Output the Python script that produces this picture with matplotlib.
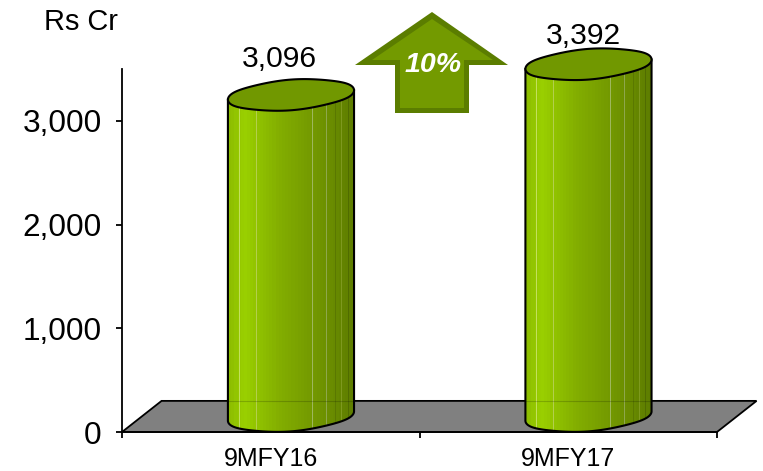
#!/usr/bin/env python3
import matplotlib

matplotlib.use("Agg")
import matplotlib.pyplot as plt
import numpy as np
from matplotlib.colors import LinearSegmentedColormap
from matplotlib.patches import Polygon
from matplotlib.path import Path

# ---------- data ---------- #
categories = ["9MFY16", "9MFY17"]
values = [3096, 3392]
value_labels = ["3,096", "3,392"]
y_ticks = [0, 1000, 2000, 3000]
y_tick_labels = ["0", "1,000", "2,000", "3,000"]
unit_label = "Rs Cr"
growth_label = "10%"

# ---------- style ---------- #
W, H = 763, 471
plt.rcParams["font.family"] = ["Liberation Sans", "DejaVu Sans"]

# fake 3D depth, in data units
DEPTH_X = 0.133
DEPTH_Y = 300
CYL_DX = 0.068
CYL_DY = 154
CYL_RX = 0.212
CYL_RY = 145
CYL_TILT = 45  # ellipses lean up to the right
CYL_WOBBLE = 3  # hand drawn look of the outline

side_cmap = LinearSegmentedColormap.from_list(
    "side",
    [(0, "#8DBD00"), (0.12, "#9AD000"), (0.4, "#83AE00"), (0.75, "#6F9300"), (1, "#5E7D00")],
)
SIDE_LINES = [(0.087, "#C5E060"), (0.222, "#B5D050"), (0.667, "#A0B860"),
              (0.778, "#90A850"), (0.85, "#5A7800"), (0.9, "#7F9A20"), (0.95, "#506C00")]


def px_box(x0, y0, x1, y1):
    return [x0 / W, 1 - y1 / H, (x1 - x0) / W, (y1 - y0) / H]


def ellipse(cx, cy, a):
    xs = cx + CYL_RX * np.cos(a)
    ys = cy + CYL_RY * np.sin(a) + CYL_TILT * np.cos(a) + CYL_WOBBLE * np.sin(5 * a)
    return xs, ys


def clip_to(artist, verts, ax):
    artist.set_clip_path(Path(verts), transform=ax.transData)
    artist.set_clip_box(ax.figure.bbox)


def draw_cylinder(ax, cx, base, top):
    # front of the body: left edge up, across the top, round the bottom ellipse
    t = np.linspace(0, np.pi, 80)
    bx, by = ellipse(cx, base, -t)
    tx, ty = ellipse(cx, top, np.array([np.pi, 0.0]))
    verts = np.c_[np.r_[tx, bx], np.r_[ty, by]]
    ax.add_patch(Polygon(verts, closed=True, fc="none", ec="black", lw=1.5, zorder=3, clip_on=False))

    grad = np.linspace(0, 1, 40).reshape(1, -1)
    im = ax.imshow(grad, cmap=side_cmap, aspect="auto", zorder=2, interpolation="nearest",
                   extent=(cx - CYL_RX, cx + CYL_RX, base - CYL_RY - CYL_TILT, top + CYL_TILT))
    clip_to(im, verts, ax)

    # faint facet lines, clipped to the body like the gradient
    for frac, col in SIDE_LINES:
        x = cx - CYL_RX + frac * 2 * CYL_RX
        ln, = ax.plot([x, x], [base - 400, top + 100], color=col, lw=0.7, zorder=2.5)
        clip_to(ln, verts, ax)

    # floor edge shows faintly through the cylinder
    ln, = ax.plot([cx - CYL_RX, cx + CYL_RX], [DEPTH_Y, DEPTH_Y], color="black", lw=0.8, alpha=0.18, zorder=2.6)
    clip_to(ln, verts, ax)

    ex, ey = ellipse(cx, top, np.linspace(0, 2 * np.pi, 160))
    ax.fill(ex, ey, fc="#719800", ec="black", lw=1.5, zorder=4, clip_on=False)


def main():
    fig = plt.figure(figsize=(W / 100, H / 100), dpi=100)
    ax = fig.add_axes(px_box(122, 69, 717, 432))

    x = np.arange(len(categories)) + 0.5

    # floor
    floor = [(0, 0), (DEPTH_X, DEPTH_Y), (2 + DEPTH_X, DEPTH_Y), (2, 0)]
    ax.add_patch(Polygon(floor, closed=True, fc="#808080", ec="black", lw=1.3, zorder=1, clip_on=False))

    for cx, val in zip(x, values):
        draw_cylinder(ax, cx + CYL_DX, CYL_DY, CYL_DY + val)

    ax.set_xlim(0, 2)
    ax.set_ylim(0, 3500)

    for sp in ("top", "right"):
        ax.spines[sp].set_visible(False)
    for sp in ("left", "bottom"):
        ax.spines[sp].set_linewidth(1.3)
        ax.spines[sp].set_zorder(5)

    ax.set_yticks(y_ticks)
    ax.set_yticklabels(y_tick_labels, fontsize=22.7)
    ax.tick_params(axis="y", length=4.5, width=1.3, pad=10)

    ax.set_xticks([0, 1, 2])
    ax.set_xticklabels([])
    ax.set_xticks(x, categories, minor=True, fontsize=18)
    ax.tick_params(axis="x", which="major", length=4.5, width=1.3)
    ax.tick_params(axis="x", which="minor", length=0, pad=11)

    # value labels sit just above the cylinder tops
    label_dx = [0.03, 0.05]
    label_dy = [345, 270]
    for cx, val, lab, dx, dy in zip(x, values, value_labels, label_dx, label_dy):
        ax.text(cx + dx, val + CYL_DY + dy, lab, fontsize=21.6, ha="center", va="center", zorder=6, clip_on=False)

    fig.text(81 / W, 1 - 22 / H, unit_label, fontsize=20.9, ha="center", va="center")

    # growth arrow, placed in figure pixels
    def arrow(pts, **kw):
        fig.add_artist(Polygon([(px / W, 1 - py / H) for px, py in pts], closed=True,
                               transform=fig.transFigure, **kw))

    arrow([(432, 12), (508, 65), (469, 65), (469, 113), (395, 113), (395, 65), (355, 65)],
          fc="#5B7D00", ec="none")
    arrow([(432, 19), (493, 60), (464, 60), (464, 108), (400, 108), (400, 60), (372, 60)],
          fc="#739A00", ec="none")
    fig.text(433 / W, 1 - 65 / H, growth_label, fontsize=20.5, color="white", style="italic",
             weight="bold", ha="center", va="center")

    fig.savefig("out.png", dpi=100)


if __name__ == "__main__":
    main()
